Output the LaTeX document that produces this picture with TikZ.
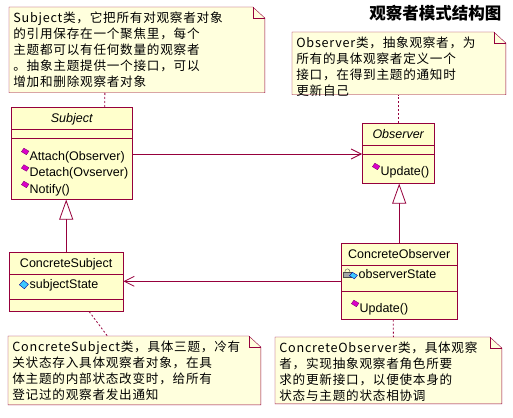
\documentclass[tikz,border=0pt]{standalone}
\usepackage{fontspec}
\setmainfont{Liberation Sans}
\newfontfamily\cjk[LetterSpace=6]{Noto Sans CJK SC}
\newfontfamily\cjktitle{Noto Sans CJK SC}
\usetikzlibrary{arrows.meta,shapes.multipart,backgrounds}
\definecolor{boxfill}{RGB}{255,255,204}
\definecolor{notefill}{RGB}{255,255,221}
\definecolor{umlline}{RGB}{150,0,60}
\definecolor{opcolor}{RGB}{220,0,200}
\definecolor{attrcolor}{RGB}{60,200,255}

\newcommand{\classname}[1]{\rule[-6.5pt]{0pt}{22pt}\hfill#1\hfill\null}
\newcommand{\opicon}{\hspace*{10pt}\tikz[baseline=0pt]\filldraw[fill=opcolor,draw=opcolor!60!black,line width=0.4pt,solid] (0pt,8.5pt) -- (2.5pt,12pt) -- (7.5pt,9pt) -- (5pt,5.5pt) -- cycle;\hspace{0.5pt}}
\newcommand{\attricon}{\hspace*{10pt}\tikz[baseline=0pt]\filldraw[fill=attrcolor,draw=blue!60!black,line width=0.4pt,solid] (0pt,4pt) -- (4pt,8.5pt) -- (9pt,4.5pt) -- (5pt,0pt) -- cycle;\hspace{1pt}}
\newcommand{\privicon}{\hspace*{2pt}\tikz[baseline=0pt,line width=0.4pt,solid]{
  \draw[black!70] (1.5pt,7pt) arc (180:0:2.5pt and 3pt);
  \filldraw[fill=black!35,draw=black!70] (0pt,2pt) rectangle (8pt,7pt);
  \filldraw[fill=attrcolor,draw=blue!60!black] (6pt,3pt) -- (9pt,6.5pt) -- (14pt,3.5pt) -- (11pt,0pt) -- cycle;}\hspace{1pt}}

\begin{document}
\begin{tikzpicture}[x=1pt,y=-1pt,line width=0.8pt,
  class node/.style={rectangle split,rectangle split parts=3,draw=umlline,fill=boxfill,
    inner xsep=0pt,inner ysep=0pt,align=left,anchor=north west,
    font=\fontsize{12.5}{16.5}\selectfont},
  note node/.style={anchor=north west,inner xsep=4pt,inner ysep=4pt,align=left,
    text height=11pt,font=\cjk\fontsize{12.6}{16}\selectfont},
  note shape/.style={draw=umlline,fill=notefill},
  assoc/.style={draw=umlline,-{Straight Barb[length=10pt,width=10pt]}},
  inherit/.style={draw=umlline,-{Triangle[open,length=20pt,width=14pt,fill=white]}},
  note link/.style={draw=umlline,dash pattern=on 2pt off 2pt}]

  \useasboundingbox (0,0) rectangle (513,417);

  \node[font=\cjktitle\bfseries\fontsize{16.5}{18}\selectfont,anchor=east] (title) at (505,13) {观察者模式结构图};

  \node[note node,text width=247pt,text depth=66pt] (subjnote) at (9,7)
    {Subject类，它把所有对观察者对象\\的引用保存在一个聚焦里，每个\\主题都可以有任何数量的观察者\\。抽象主题提供一个接口，可以\\增加和删除观察者对象};
  \node[note node,text width=205pt,text depth=43pt] (obsnote) at (292,32)
    {Observer类，抽象观察者，为\\所有的具体观察者定义一个\\接口，在得到主题的通知时\\更新自己};
  \node[note node,text width=244pt,text depth=49pt] (csnote) at (8,336)
    {ConcreteSubject类，具体三题，冷有\\关状态存入具体观察者对象，在具\\体主题的内部状态改变时，给所有\\登记过的观察者发出通知};
  \node[note node,text width=218pt,text depth=47pt] (conote) at (275,337)
    {ConcreteObserver类，具体观察\\者，实现抽象观察者角色所要\\求的更新接口，以便使本身的\\状态与主题的状态相协调};

  \begin{scope}[on background layer]
    \foreach \n in {subjnote,obsnote,csnote,conote} {
      \filldraw[note shape] (\n.north west) -- ([xshift=-12pt]\n.north east)
        -- ([yshift=-11pt]\n.north east) -- (\n.south east) -- (\n.south west) -- cycle;
      \draw[umlline,line width=0.6pt] ([xshift=-12pt]\n.north east)
        -- ([xshift=-12pt,yshift=-11pt]\n.north east) -- ([yshift=-11pt]\n.north east);
    }
  \end{scope}

  \node[class node,text width=121pt] (subject) at (11,107)
    {\classname{\itshape Subject}
     \nodepart{two}\rule{0pt}{8pt}
     \nodepart{three}\rule{0pt}{22pt}\opicon Attach(Observer)\\
     \opicon Detach(Ovserver)\\
     \opicon Notify()\rule[-6pt]{0pt}{6pt}};
  \node[class node,text width=72pt] (observer) at (362,123)
    {\classname{\itshape Observer}
     \nodepart{two}\rule{0pt}{8pt}
     \nodepart{three}\rule{0pt}{21pt}\opicon Update()\rule[-8pt]{0pt}{8pt}};
  \node[class node,text width=114pt] (csubject) at (9,252)
    {\classname{ConcreteSubject}
     \nodepart{two}\rule{0pt}{14pt}\attricon subjectState\rule[-10pt]{0pt}{10pt}
     \nodepart{three}\rule{0pt}{12pt}};
  \node[class node,text width=116pt] (cobserver) at (341,243)
    {\classname{ConcreteObserver}
     \nodepart{two}\rule{0pt}{13pt}\privicon observerState\rule[-12pt]{0pt}{12pt}
     \nodepart{three}\rule{0pt}{21pt}\opicon Update()\rule[-7pt]{0pt}{7pt}};

  \draw[assoc] (subject.east |- observer.two split west) -- (observer.two split west);
  \draw[assoc] (cobserver.west) -- (cobserver.west -| csubject.east);
  \draw[inherit] (csubject.north) -- (csubject.north |- subject.south);
  \draw[inherit] (cobserver.north) -- (cobserver.north |- observer.south);

  \draw[note link] ([xshift=33pt]subject.north) -- ([xshift=-32pt]subjnote.south);
  \draw[note link] (observer.north) -- (observer.north |- obsnote.south);
  \draw[note link] ([xshift=23pt]csubject.south) -- ([xshift=-27pt]csnote.north);
  \draw[note link] ([xshift=-6pt]cobserver.south) -- ([xshift=5pt]conote.north);

\end{tikzpicture}
\end{document}
